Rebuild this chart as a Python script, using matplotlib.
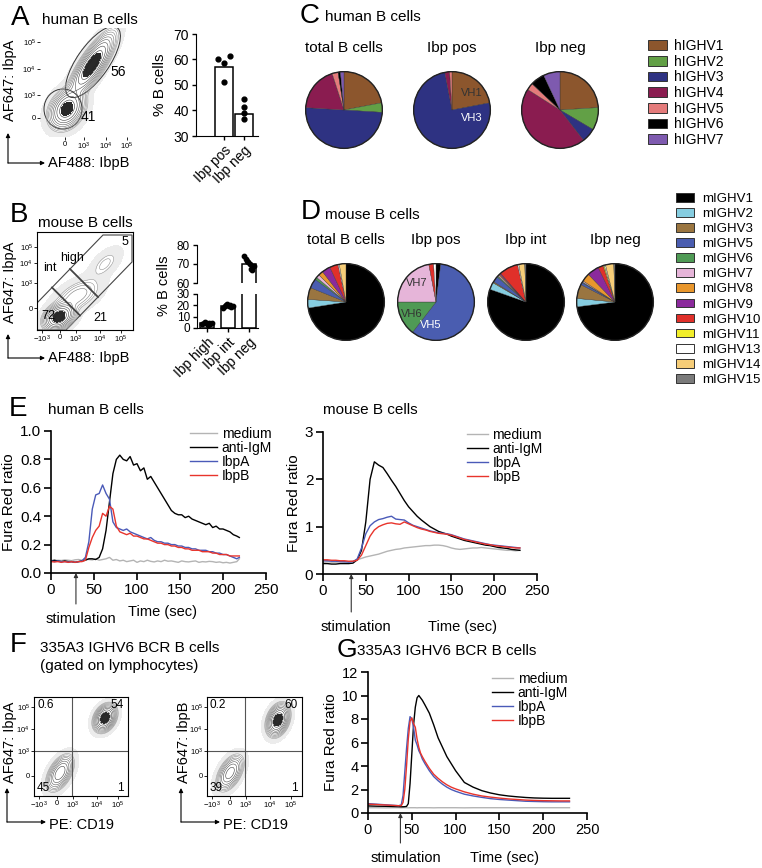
import numpy as np
import matplotlib
matplotlib.use("Agg")
import matplotlib.pyplot as plt
from matplotlib.patches import Ellipse, Polygon, Circle, Patch, FancyArrowPatch

plt.rcParams['font.family'] = ['Liberation Sans', 'DejaVu Sans']
plt.rcParams['mathtext.fontset'] = 'custom'
plt.rcParams['mathtext.rm'] = 'Liberation Sans'
plt.rcParams['mathtext.it'] = 'Liberation Sans:italic'

# ======================= DATA =======================
# --- A: human B cells, bar chart ---
a_groups = ['Ibp pos', 'Ibp neg']
a_bar = [57, 38.5]
a_pos_pts = [60, 61.5, 58.5, 51]
a_neg_pts = [44.5, 41.5, 39, 36.5]
a_gate_pct = ['56', '41']

# --- B: mouse B cells, bar chart (broken axis) ---
b_groups = ['Ibp high', 'Ibp int', 'Ibp neg']
b_bar = [4.2, 19.5, 70]
b_high_pts = [3.5, 4.5, 5, 4, 3, 4.5, 3.8, 4.2]
b_int_pts = [18, 19, 20.5, 21, 19.5, 20, 18.5, 19]
b_neg_pts = [74, 72.5, 71.5, 71, 70, 67.5, 67, 69]
b_gate_pct = ['5', '21', '72']

# --- C: human IGHV usage (%) ---
h_genes = ['hIGHV1', 'hIGHV2', 'hIGHV3', 'hIGHV4', 'hIGHV5', 'hIGHV6', 'hIGHV7']
h_colors = ['#8c562d', '#62a046', '#2e3282', '#8a1c50', '#e47b7b', '#000000', '#7e5aaf']
h_pie_titles = ['total B cells', 'Ibp pos', 'Ibp neg']
h_total = [22, 4, 50, 19, 2.5, 1, 1.5]
h_pos = [22, 0, 75, 2, 1, 0, 0]
h_neg = [24, 9.5, 6, 44.5, 3, 6, 7]

# --- D: mouse IGHV usage (%) ---
m_genes = ['mIGHV1', 'mIGHV2', 'mIGHV3', 'mIGHV5', 'mIGHV6', 'mIGHV7', 'mIGHV8',
           'mIGHV9', 'mIGHV10', 'mIGHV11', 'mIGHV13', 'mIGHV14', 'mIGHV15']
m_colors = ['#000000', '#86cde0', '#9a7540', '#4a5db0', '#4f9a55', '#e6b5d9', '#e8962c',
            '#8b2a9c', '#e0302a', '#f2ee2a', '#ffffff', '#f6cd78', '#7a7a7a']
m_pie_titles = ['total B cells', 'Ibp pos', 'Ibp int', 'Ibp neg']
m_total = [72.5, 3.6, 5, 4, 1, 1.4, 2, 3.6, 3.6, 0, 0.5, 2.8, 0]
m_pos = [2, 0, 0, 58.5, 14.5, 22, 0, 0, 2, 0, 1, 0, 0]
m_int = [80, 3, 0.5, 2.5, 0.5, 0.5, 0.5, 0.5, 8, 0, 0.5, 2.5, 0.5]
m_neg = [73, 3.5, 6, 1, 0.3, 0.5, 3.5, 5, 2.2, 0.5, 0.5, 3.5, 0.5]

# --- E: calcium flux, human ---
cond_labels = ['medium', 'anti-IgM', 'IbpA', 'IbpB']
eh_t = [0, 4, 8, 12, 16, 20, 24, 28, 32, 36, 40, 44, 48, 52, 56, 60, 64, 68, 72, 76,
        80, 84, 88, 92, 96, 100, 104, 108, 112, 116, 120, 124, 128, 132, 136, 140, 144,
        148, 152, 156, 160, 164, 168, 172, 176, 180, 184, 188, 192, 196, 200, 204, 208,
        212, 216, 219]
eh_medium = [0.09, 0.085, 0.09, 0.088, 0.092, 0.09, 0.087, 0.093, 0.095, 0.09,
             0.1, 0.095, 0.092, 0.1, 0.09, 0.095, 0.1, 0.11, 0.09, 0.095,
             0.085, 0.09, 0.08, 0.085, 0.09, 0.075, 0.085, 0.08, 0.09, 0.082,
             0.078, 0.085, 0.08, 0.09, 0.083, 0.085, 0.08, 0.075, 0.085, 0.08,
             0.078, 0.082, 0.085, 0.075, 0.08, 0.078, 0.082, 0.08, 0.075, 0.078,
             0.072, 0.075, 0.07, 0.075, 0.08, 0.1]
eh_antiigm = [0.085, 0.09, 0.085, 0.08, 0.085, 0.08, 0.08, 0.075, 0.08, 0.085,
              0.09, 0.1, 0.1, 0.095, 0.11, 0.17, 0.3, 0.5, 0.7, 0.8,
              0.83, 0.8, 0.79, 0.82, 0.76, 0.77, 0.72, 0.74, 0.66, 0.68,
              0.64, 0.6, 0.56, 0.52, 0.48, 0.44, 0.42, 0.41, 0.41, 0.39,
              0.4, 0.38, 0.37, 0.36, 0.35, 0.34, 0.35, 0.32, 0.33, 0.31,
              0.31, 0.3, 0.29, 0.27, 0.26, 0.25]
eh_ibpa = [0.085, 0.08, 0.085, 0.08, 0.08, 0.078, 0.08, 0.075, 0.08, 0.085,
           0.11, 0.22, 0.45, 0.55, 0.56, 0.62, 0.56, 0.52, 0.36, 0.32,
           0.31, 0.3, 0.31, 0.29, 0.28, 0.27, 0.26, 0.25, 0.24, 0.25,
           0.23, 0.22, 0.22, 0.21, 0.21, 0.2, 0.2, 0.19, 0.19, 0.18,
           0.18, 0.17, 0.17, 0.16, 0.16, 0.16, 0.15, 0.15, 0.14, 0.14,
           0.13, 0.13, 0.12, 0.11, 0.1, 0.11]
eh_ibpb = [0.08, 0.078, 0.08, 0.075, 0.08, 0.075, 0.08, 0.075, 0.08, 0.08,
           0.09, 0.18, 0.25, 0.3, 0.33, 0.42, 0.4, 0.47, 0.45, 0.33,
           0.29, 0.28, 0.27, 0.28, 0.26, 0.26, 0.25, 0.24, 0.24, 0.23,
           0.22, 0.21, 0.21, 0.2, 0.2, 0.19, 0.19, 0.18, 0.18, 0.17,
           0.17, 0.16, 0.16, 0.16, 0.15, 0.15, 0.15, 0.14, 0.14, 0.13,
           0.13, 0.13, 0.12, 0.12, 0.12, 0.12]
eh_stim = 29

# --- E: calcium flux, mouse ---
em_t = [0, 5, 10, 15, 20, 25, 30, 35, 40, 45, 50, 55, 60, 65, 70, 75, 80, 85, 90, 95,
        100, 105, 110, 115, 120, 125, 130, 135, 140, 145, 150, 155, 160, 165, 170, 175,
        180, 185, 190, 195, 200, 205, 210, 215, 220, 225, 230]
em_medium = [0.25, 0.26, 0.25, 0.25, 0.26, 0.25, 0.26, 0.27, 0.3, 0.33,
             0.36, 0.38, 0.4, 0.42, 0.45, 0.48, 0.5, 0.52, 0.53, 0.55,
             0.56, 0.57, 0.58, 0.59, 0.6, 0.6, 0.61, 0.61, 0.6, 0.58,
             0.55, 0.53, 0.52, 0.53, 0.54, 0.55, 0.55, 0.56, 0.55, 0.54,
             0.53, 0.52, 0.51, 0.5, 0.5, 0.49, 0.5]
em_antiigm = [0.22, 0.22, 0.21, 0.21, 0.22, 0.22, 0.22, 0.23, 0.3, 0.5,
              1.1, 2.0, 2.37, 2.3, 2.25, 2.12, 1.98, 1.85, 1.7, 1.55,
              1.42, 1.32, 1.22, 1.14, 1.07, 1.0, 0.95, 0.9, 0.87, 0.84,
              0.8, 0.77, 0.74, 0.71, 0.69, 0.67, 0.65, 0.63, 0.61, 0.6,
              0.58, 0.56, 0.55, 0.54, 0.52, 0.51, 0.5]
em_ibpa = [0.28, 0.28, 0.27, 0.27, 0.26, 0.26, 0.25, 0.26, 0.32, 0.55,
           0.85, 1.02, 1.1, 1.15, 1.17, 1.2, 1.22, 1.16, 1.15, 1.14,
           1.08, 1.03, 1.0, 0.97, 0.94, 0.91, 0.89, 0.87, 0.86, 0.85,
           0.83, 0.8, 0.77, 0.74, 0.72, 0.7, 0.68, 0.66, 0.64, 0.62,
           0.61, 0.6, 0.59, 0.58, 0.57, 0.56, 0.55]
em_ibpb = [0.3, 0.3, 0.29, 0.29, 0.28, 0.28, 0.27, 0.27, 0.29, 0.4,
           0.6, 0.8, 0.93, 1.0, 1.04, 1.07, 1.08, 1.06, 1.05, 1.1,
           1.06, 1.02, 0.98, 0.95, 0.93, 0.9, 0.88, 0.86, 0.85, 0.84,
           0.82, 0.79, 0.76, 0.73, 0.71, 0.69, 0.67, 0.65, 0.63, 0.62,
           0.6, 0.59, 0.58, 0.57, 0.56, 0.55, 0.55]
em_stim = 33

# --- F: 335A3 IGHV6 BCR B cells, quadrant percentages ---
f1_quads = ['0.6', '54', '45', '1']
f2_quads = ['0.2', '60', '39', '1']

# --- G: calcium flux, 335A3 ---
g_t = [0, 10, 20, 30, 35, 38, 40, 42, 44, 46, 48, 50, 52, 54, 56, 58, 60, 62, 65, 70,
       75, 80, 85, 90, 95, 100, 110, 120, 130, 140, 150, 160, 170, 180, 190, 200, 210,
       220, 230]
g_medium = [0.45, 0.45, 0.44, 0.45, 0.45, 0.44, 0.45, 0.45, 0.45, 0.44,
            0.45, 0.45, 0.45, 0.45, 0.44, 0.45, 0.45, 0.45, 0.45, 0.45,
            0.44, 0.45, 0.45, 0.45, 0.45, 0.45, 0.44, 0.45, 0.45, 0.45,
            0.45, 0.45, 0.44, 0.45, 0.45, 0.45, 0.45, 0.45, 0.45]
g_antiigm = [0.6, 0.58, 0.57, 0.55, 0.54, 0.53, 0.53, 0.54, 0.56, 0.8,
             2.5, 5.0, 7.5, 9.0, 9.8, 10.0, 9.8, 9.6, 9.2, 8.5,
             7.5, 6.4, 5.6, 4.8, 4.2, 3.6, 2.6, 2.2, 1.9, 1.7,
             1.55, 1.45, 1.38, 1.32, 1.28, 1.26, 1.25, 1.25, 1.25]
g_ibpa = [0.8, 0.75, 0.7, 0.65, 0.62, 0.7, 1.5, 3.5, 5.5, 7.2,
          8.2, 8.0, 7.3, 6.2, 5.8, 5.3, 5.0, 4.6, 4.2, 3.6,
          3.1, 2.75, 2.45, 2.2, 2.0, 1.85, 1.6, 1.45, 1.33, 1.22,
          1.15, 1.1, 1.05, 1.0, 0.98, 0.96, 0.95, 0.95, 0.95]
g_ibpb = [0.75, 0.72, 0.68, 0.64, 0.62, 0.62, 0.9, 2.0, 4.0, 6.3,
          7.8, 8.1, 7.6, 7.3, 6.3, 5.6, 5.1, 4.8, 4.4, 3.8,
          3.3, 2.95, 2.65, 2.4, 2.2, 2.05, 1.8, 1.6, 1.45, 1.35,
          1.27, 1.2, 1.15, 1.1, 1.07, 1.05, 1.04, 1.03, 1.03]
g_stim = 37

# flow cytometry populations: (centre x, centre y, sd x, sd y, correlation, % events)
# in pixel units of each plot
a_pops = [(27, 28, 8, 9, 0.3, 41), (52, 72, 10, 14, 0.8, 56)]
b_pops = [(22, 13, 7, 6, 0.3, 72), (40, 34, 12, 9, 0.55, 21), (68, 66, 8, 8, 0.6, 5)]
f1_pops = [(26, 23, 6, 8, 0.5, 45), (71, 78, 5, 6, 0.3, 54)]
f2_pops = [(23, 23, 6, 8, 0.5, 39), (71, 76, 5, 7, 0.3, 60)]

# ======================= FIGURE =======================
W, H = 762, 868
fig = plt.figure(figsize=(W / 100, H / 100), dpi=100)

COND_COLORS = ['#b4b4b4', '#000000', '#4a5ab8', '#e8342c']


def ax_px(l, t, r, b):
    return fig.add_axes([l / W, 1 - b / H, (r - l) / W, (b - t) / H])


def ftext(x, y, s, **kw):
    kw.setdefault('va', 'center')
    fig.text(x / W, 1 - y / H, s, **kw)


def fpt(x, y):
    return (x / W, 1 - y / H)


def l_arrow(xc, yc, ytop, xright):
    for end in [(xc, ytop), (xright, yc)]:
        fig.add_artist(FancyArrowPatch(fpt(xc, yc), fpt(*end), transform=fig.transFigure,
                                       arrowstyle='-|>', mutation_scale=6, lw=0.8,
                                       color='k', shrinkA=0, shrinkB=0))


def flow_panel(rect, pops, xt, xtl, yt, ytl, frame=True):
    l, t, r, b = rect
    w, h = r - l, b - t
    ax = ax_px(l, t, r, b)
    ax.set_xlim(0, w)
    ax.set_ylim(0, h)
    xs = np.linspace(0, w, 260)
    ys = np.linspace(0, h, 260)
    X, Y = np.meshgrid(xs, ys)
    Z = np.zeros_like(X)
    for cx, cy, sx, sy, rho, wt in pops:
        dx = (X - cx) / sx
        dy = (Y - cy) / sy
        q = (dx * dx - 2 * rho * dx * dy + dy * dy) / (2 * (1 - rho * rho))
        Z += wt / (sx * sy * np.sqrt(1 - rho * rho)) * np.exp(-q)
    Z /= Z.max()
    ax.contourf(X, Y, Z, levels=[0.004, 0.03], colors=['#ececec'])
    ax.contourf(X, Y, Z, levels=[0.7, 1.01], colors=['#2a2a2a'])
    lev = np.geomspace(0.03, 0.85, 10)
    cols = [str(v) for v in np.linspace(0.62, 0.15, 10)]
    ax.contour(X, Y, Z, levels=lev, colors=cols, linewidths=0.4)
    ax.set_xticks(xt)
    ax.set_xticklabels(xtl)
    ax.set_yticks(yt)
    ax.set_yticklabels(ytl)
    ax.tick_params(labelsize=5.5, length=2, width=0.6, pad=1)
    for s in ax.spines.values():
        s.set_linewidth(0.8)
        s.set_visible(frame)
    return ax


LOGX = ['$-10^3$', '0', '$10^3$', '$10^4$', '$10^5$']
LOGY = ['0', '$10^3$', '$10^4$', '$10^5$']

# ---------------- Panel A ----------------
ftext(11, 18, 'A', fontsize=20)
ftext(42, 20, 'human B cells', fontsize=11)
axA = flow_panel((40, 28, 130, 137), a_pops, [25, 44, 66, 87], LOGY,
                 [19, 42, 68, 95], LOGY, frame=False)
axA.add_patch(Ellipse((23, 28), 38, 40, fill=False, lw=0.7, ec='#333333'))
axA.add_patch(Ellipse((53, 75), 84, 32, angle=55, fill=False, lw=0.7, ec='#333333'))
axA.text(78, 65, a_gate_pct[0], fontsize=10, ha='center', va='center')
axA.text(48, 20, a_gate_pct[1], fontsize=10, ha='center', va='center')
ftext(10, 80, 'AF647: IbpA', fontsize=10.5, rotation=90, ha='center')
ftext(48, 163, 'AF488: IbpB', fontsize=10.5, ha='left')
l_arrow(8, 163, 133, 45)

axAb = ax_px(196, 34, 258, 136)
xa = np.arange(len(a_groups))
axAb.bar(xa, a_bar, width=0.9, bottom=0, color='white', edgecolor='black', lw=1.1)
for i, pts in enumerate([a_pos_pts, a_neg_pts]):
    offs = [-0.3, 0.3, 0.0, 0.0] if i == 0 else [0.0, 0.0, 0.0, 0.0]
    axAb.scatter(np.full(len(pts), i) + np.array(offs), pts, s=12, color='black', zorder=3)
axAb.set_ylim(30, 70)
axAb.set_xlim(-1.4, 1.7)
axAb.set_yticks([30, 40, 50, 60, 70])
axAb.set_xticks(xa)
axAb.set_xticklabels(a_groups, rotation=45, ha='right', rotation_mode='anchor')
axAb.tick_params(labelsize=10, length=3, width=1, pad=2)
axAb.spines[['top', 'right']].set_visible(False)
ftext(160, 85, '% B cells', fontsize=11, rotation=90, ha='center')

# ---------------- Panel B ----------------
ftext(10, 215, 'B', fontsize=20)
ftext(38, 223, 'mouse B cells', fontsize=11)
axB = flow_panel((37, 232, 133, 330), b_pops, [5, 23, 39, 63, 84], LOGX,
                 [22, 47, 67, 83], LOGY, frame=True)
gate_outline = [(0, 0), (0, 27), (66, 95), (95, 95), (95, 68), (29, 0)]
axB.add_patch(Polygon(gate_outline, closed=True, fill=False, lw=0.8, ec='#444444'))
axB.plot([15, 43], [42.5, 14.5], color='#444444', lw=1.3)
axB.plot([33, 61], [61, 33], color='#444444', lw=1.3)
axB.text(35, 72, 'high', fontsize=9, ha='center', va='center')
axB.text(13, 62, 'int', fontsize=9, ha='center', va='center')
axB.text(88, 88, b_gate_pct[0], fontsize=9, ha='center', va='center')
axB.text(63, 12, b_gate_pct[1], fontsize=9, ha='center', va='center')
axB.text(11, 14, b_gate_pct[2], fontsize=9, ha='center', va='center')
ftext(10, 282, 'AF647: IbpA', fontsize=10.5, rotation=90, ha='center')
ftext(48, 358, 'AF488: IbpB', fontsize=10.5, ha='left')
l_arrow(8, 358, 334, 45)

xb = np.arange(len(b_groups))
b_offs = [-0.22, -0.16, -0.1, -0.03, 0.03, 0.1, 0.16, 0.22]
axBu = ax_px(197, 245, 258, 283)
axBl = ax_px(197, 294, 258, 328)
for axx in (axBu, axBl):
    axx.bar(xb, b_bar, width=0.7, color='white', edgecolor='black', lw=1.1)
    for i, pts in enumerate([b_high_pts, b_int_pts, b_neg_pts]):
        axx.scatter(np.full(len(pts), i) + np.array(b_offs), pts, s=10, color='black',
                    zorder=3, clip_on=True)
    axx.set_xlim(-0.48, 2.43)
    axx.spines[['top', 'right']].set_visible(False)
    axx.tick_params(labelsize=8.5, length=3, width=1, pad=2)
axBu.set_ylim(60, 80)
axBu.set_yticks([60, 70, 80])
axBu.spines['bottom'].set_visible(False)
axBu.set_xticks([])
axBl.set_ylim(0, 30)
axBl.set_yticks([0, 10, 20, 30])
axBl.set_xticks(xb)
axBl.set_xticklabels(b_groups, rotation=45, ha='right', rotation_mode='anchor', fontsize=10)
ftext(164, 286, '% B cells', fontsize=10.5, rotation=90, ha='center')

# ---------------- Panel C ----------------
ftext(300, 16, 'C', fontsize=20)
ftext(325, 17, 'human B cells', fontsize=11)
R = 38.5


def pie_at(cx, cy, vals, colors, title, ty, labels=()):
    ax = ax_px(cx - R - 1, cy - R - 1, cx + R + 1, cy + R + 1)
    keep = [(v, c) for v, c in zip(vals, colors) if v > 0]
    ax.pie([k[0] for k in keep], colors=[k[1] for k in keep], startangle=90,
           counterclock=False, radius=1, wedgeprops=dict(linewidth=0.25, edgecolor='#333333'))
    ax.add_patch(Circle((0, 0), 1, fill=False, lw=1.0, ec='#222222'))
    ax.set_xlim(-1.03, 1.03)
    ax.set_ylim(-1.03, 1.03)
    ax.set_aspect('equal')
    ax.axis('off')
    ftext(cx, ty, title, fontsize=11, ha='center')
    for (lx, ly, s, c) in labels:
        ax.text(lx, ly, s, fontsize=8, color=c, ha='center', va='center')
    return ax


pie_at(344, 110, h_total, h_colors, h_pie_titles[0], 48)
pie_at(452, 110, h_pos, h_colors, h_pie_titles[1], 48,
       labels=[(0.52, 0.45, 'VH1', '#333333'), (0.52, -0.2, 'VH3', 'white')])
pie_at(560, 110, h_neg, h_colors, h_pie_titles[2], 48)

fig.legend(handles=[Patch(facecolor=c, edgecolor='#333333', lw=0.7, label=g)
                    for g, c in zip(h_genes, h_colors)],
           loc='upper left', bbox_to_anchor=fpt(648, 39), frameon=False, fontsize=10,
           borderpad=0, borderaxespad=0, handlelength=1.35, handleheight=0.7,
           handletextpad=0.55, labelspacing=0.12)

# ---------------- Panel D ----------------
ftext(301, 212, 'D', fontsize=20)
ftext(325, 215, 'mouse B cells', fontsize=11)
pie_at(346, 302, m_total, m_colors, m_pie_titles[0], 240)
pie_at(436, 302, m_pos, m_colors, m_pie_titles[1], 240,
       labels=[(-0.5, 0.5, 'VH7', '#333333'), (-0.62, -0.3, 'VH6', '#333333'),
               (-0.15, -0.6, 'VH5', 'white')])
pie_at(526, 302, m_int, m_colors, m_pie_titles[2], 240)
pie_at(615, 302, m_neg, m_colors, m_pie_titles[3], 240)

fig.legend(handles=[Patch(facecolor=c, edgecolor='#333333', lw=0.7, label=g)
                    for g, c in zip(m_genes, m_colors)],
           loc='upper left', bbox_to_anchor=fpt(676, 193), frameon=False, fontsize=9.5,
           borderpad=0, borderaxespad=0, handlelength=1.35, handleheight=0.65,
           handletextpad=0.6, labelspacing=0.23)


# ---------------- Panel E / G traces ----------------
def flux_axes(rect, t_list, series, ylim, yticks, yfmt, stim, stim_text_dy,
              stim_arrow_dy, leg_anchor, leg_hl, tsize):
    ax = ax_px(*rect)
    for s, c, lab in zip(series, COND_COLORS, cond_labels):
        ax.plot(t_list[:len(s)], s, color=c, lw=1.0, label=lab)
    ax.set_xlim(0, 250)
    ax.set_ylim(*ylim)
    ax.set_xticks([0, 50, 100, 150, 200, 250])
    ax.set_yticks(yticks)
    ax.set_yticklabels([yfmt.format(v) for v in yticks])
    ax.spines[['top', 'right']].set_visible(False)
    for s in ('left', 'bottom'):
        ax.spines[s].set_linewidth(1.2)
    ax.tick_params(labelsize=tsize, length=5, width=1.2, pad=2)
    ax.set_ylabel('Fura Red ratio', fontsize=11, labelpad=3)
    ax.annotate('', xy=(stim, ylim[0]), xycoords='data',
                xytext=(0, -stim_arrow_dy), textcoords='offset pixels',
                arrowprops=dict(arrowstyle='-|>', color='#333333', lw=0.8,
                                mutation_scale=6, shrinkA=0, shrinkB=0))
    ax.annotate('stimulation', xy=(stim, ylim[0]), xycoords='data',
                xytext=(5, -stim_text_dy), textcoords='offset pixels',
                ha='center', va='center', fontsize=10.5, annotation_clip=False)
    ax.legend(loc='upper left', bbox_to_anchor=leg_anchor, frameon=False, fontsize=10,
              borderpad=0, borderaxespad=0, handlelength=leg_hl, handletextpad=0.35,
              labelspacing=0.0)
    return ax


ftext(9, 409, 'E', fontsize=20)
ftext(48, 410, 'human B cells', fontsize=11)
flux_axes((51, 431, 266, 573), eh_t, [eh_medium, eh_antiigm, eh_ibpa, eh_ibpb],
          (0, 1.0), [0.0, 0.2, 0.4, 0.6, 0.8, 1.0], '{:.1f}', eh_stim, 46, 31,
          (0.645, 1.03), 1.95, 11)
ftext(162, 612, 'Time (sec)', fontsize=10.5, ha='center')

ftext(323, 410, 'mouse B cells', fontsize=11)
flux_axes((323, 432, 537, 574), em_t, [em_medium, em_antiigm, em_ibpa, em_ibpb],
          (0, 3), [0, 1, 2, 3], '{:d}', em_stim, 53, 38,
          (0.672, 1.03), 1.5, 11)
ftext(463, 627, 'Time (sec)', fontsize=10.5, ha='center')

# ---------------- Panel F ----------------
ftext(10, 645, 'F', fontsize=20)
ftext(40, 648, '335A3 IGHV6 BCR B cells', fontsize=11, ha='left')
ftext(40, 666, '(gated on lymphocytes)', fontsize=11, ha='left')
for rect, pops, quads, ylab, xcorner in [((34, 697, 128, 796), f1_pops, f1_quads, 'AF647: IbpA', 7),
                                         ((207, 697, 302, 796), f2_pops, f2_quads, 'AF647: IbpB', 181)]:
    axF = flow_panel(rect, pops, [5, 23, 39, 63, 84], LOGX, [20, 45, 67, 89], LOGY, frame=True)
    w = rect[2] - rect[0]
    axF.axvline(38, color='#555555', lw=0.8)
    axF.axhline(45, color='#555555', lw=0.8)
    axF.text(3, 91, quads[0], fontsize=8.5, ha='left', va='center')
    axF.text(w - 4, 91, quads[1], fontsize=8.5, ha='right', va='center')
    axF.text(3, 8, quads[2], fontsize=8.5, ha='left', va='center')
    axF.text(w - 4, 8, quads[3], fontsize=8.5, ha='right', va='center')
    ftext(xcorner + 3, 742, ylab, fontsize=10.5, rotation=90, ha='center')
    ftext(xcorner + 42, 825, 'PE: CD19', fontsize=10.5, ha='left')
    l_arrow(xcorner, 822, 788, xcorner + 39)

# ---------------- Panel G ----------------
ftext(337, 650, 'G', fontsize=19)
ftext(357, 651, '335A3 IGHV6 BCR B cells', fontsize=11, ha='left')
flux_axes((368, 672, 587, 813), g_t, [g_medium, g_antiigm, g_ibpa, g_ibpb],
          (0, 12), [0, 2, 4, 6, 8, 10, 12], '{:d}', g_stim, 45, 30,
          (0.566, 1.0), 1.5, 10.5)
ftext(505, 858, 'Time (sec)', fontsize=10.5, ha='center')

fig.savefig('out.png', dpi=100)
